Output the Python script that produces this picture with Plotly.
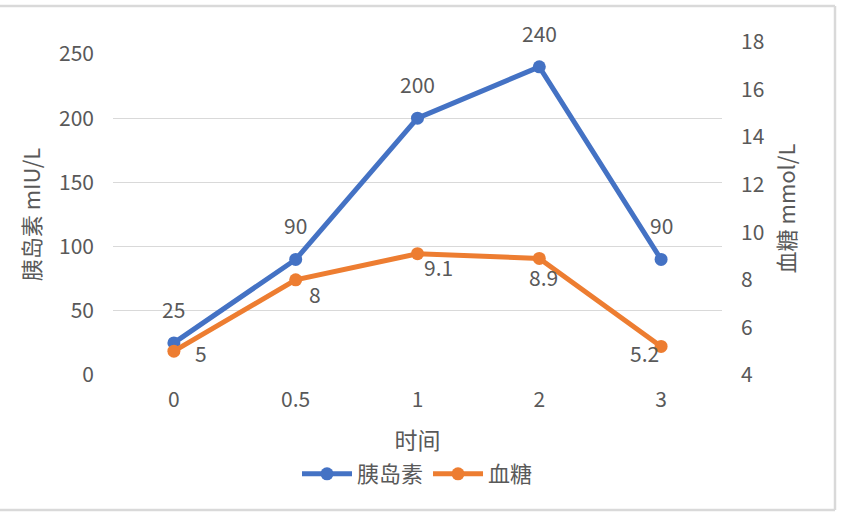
import plotly.graph_objects as go

# 数据
times = ["0", "0.5", "1", "2", "3"]
insulin = [25, 90, 200, 240, 90]
glucose = [5, 8, 9.1, 8.9, 5.2]
# 标签相对数据点的偏移 (px)
glucose_shift = [(27, -2), (19, -14), (21, -13), (4, -19), (-17, -7)]

W, H = 844, 520
L, R, T, B = 113, 122, 42, 145
pw, ph = W - L - R, H - T - B


def px(x, y):
    # pixel -> paper coords
    return (x - L) / pw, 1 - (y - T) / ph


font = "Noto Sans CJK SC, Noto Sans, sans-serif"
gray = "#595959"

fig = go.Figure()
fig.add_trace(go.Scatter(
    x=times, y=glucose, name="血糖", mode="lines+markers",
    line=dict(color="#ED7D31", width=5), marker=dict(size=13),
    yaxis="y2", cliponaxis=False,
))
fig.add_trace(go.Scatter(
    x=times, y=insulin, name="胰岛素", mode="lines+markers",
    line=dict(color="#4472C4", width=5), marker=dict(size=13),
    yaxis="y", cliponaxis=False,
))

# 数据标签（类别轴上按序号定位）
for i, v in enumerate(insulin):
    fig.add_annotation(x=i, y=v, xref="x", yref="y", text=str(v), showarrow=False,
                       yshift=34, font=dict(size=21, color=gray))
for i, (v, (dx, dy)) in enumerate(zip(glucose, glucose_shift)):
    fig.add_annotation(x=i, y=v, xref="x", yref="y2", text=str(v), showarrow=False,
                       xshift=dx, yshift=dy, font=dict(size=21, color=gray))

fig.update_layout(
    width=W, height=H,
    margin=dict(l=L, r=R, t=T, b=B, autoexpand=False),
    paper_bgcolor="white", plot_bgcolor="rgba(0,0,0,0)",
    font=dict(family=font, color=gray, size=21),
    xaxis=dict(type="category", range=[-0.5, 4.5], showgrid=False,
               showline=False, zeroline=False, ticks="", automargin=False,
               tickfont=dict(size=21), ticklabelstandoff=10,
               title=dict(text="时间", font=dict(size=23), standoff=20)),
    yaxis=dict(domain=[0, px(0, 54)[1]], range=[0, 250], dtick=50,
               showgrid=True, gridcolor="#d9d9d9", gridwidth=1.3,
               zeroline=False, showline=False, tickfont=dict(size=21),
               ticklabelstandoff=18, automargin=False,
               title=dict(text="胰岛素 mIU/L", font=dict(size=22), standoff=12)),
    yaxis2=dict(domain=[0, 1], anchor="x", side="right", range=[4, 18],
                dtick=2, showgrid=False, zeroline=False, showline=False,
                tickfont=dict(size=21), ticklabelstandoff=18, automargin=False,
                title=dict(text="血糖 mmol/L", font=dict(size=22), standoff=16)),
    showlegend=True,
    legend=dict(orientation="h", x=0.5, xanchor="center", traceorder="reversed",
                y=px(0, 474)[1], yanchor="middle",
                font=dict(size=22, color=gray), itemwidth=50),
)

# 图表边框（上、右、下）
x0, y0 = px(0, 6)
x1, y1 = px(835, 510)
for a, b, c, d in [(x0, y0, x1, y0), (x1, y0, x1, y1), (x0, y1, x1, y1)]:
    fig.add_shape(type="line", xref="paper", yref="paper", x0=a, y0=b, x1=c, y1=d,
                  line=dict(color="#d9d9d9", width=2.5))

fig.write_html("out.html", config={"displayModeBar": False},
               post_script="document.body.style.margin='0';")
